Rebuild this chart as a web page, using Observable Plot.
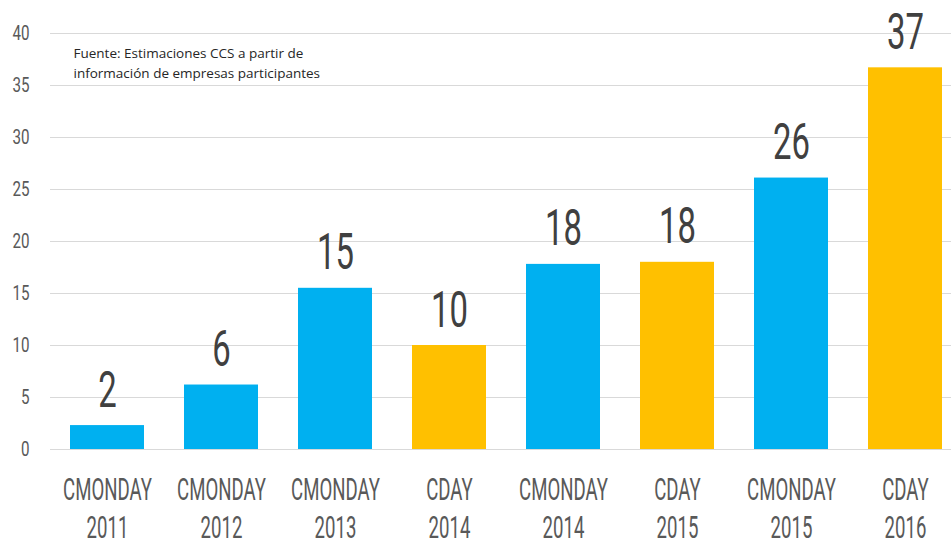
<!DOCTYPE html>
<html>
<head>
<meta charset="utf-8">
<script src="https://cdn.jsdelivr.net/npm/d3@7"></script>
<script src="https://cdn.jsdelivr.net/npm/@observablehq/plot@0.6"></script>
<style>
  html, body { margin: 0; padding: 0; background: #fff; }
  #chart svg { display: block; overflow: visible; }
</style>
</head>
<body>
<div id="chart"></div>
<script>
const events = ["CMONDAY","CMONDAY","CMONDAY","CDAY","CMONDAY","CDAY","CMONDAY","CDAY"];
const years = ["2011","2012","2013","2014","2014","2015","2015","2016"];
const values = [2.3, 6.2, 15.5, 10.0, 17.8, 18.0, 26.1, 36.7];
const valueLabels = ["2","6","15","10","18","18","26","37"];
const yTicks = [0, 5, 10, 15, 20, 25, 30, 35, 40];
const eventTypes = ["CMONDAY", "CDAY"];
const eventColors = ["#00B0F0", "#FFC000"];
const caption = "Fuente: Estimaciones CCS a partir de\ninformación de empresas participantes";

const data = events.map((e, i) => ({
  cat: e + "\n" + years[i],
  event: e,
  value: values[i],
  label: valueLabels[i]
}));

const narrow = "Roboto, sans-serif";

const chart = Plot.plot({
  width: 951,
  height: 542,
  marginTop: 33,
  marginBottom: 93,
  marginLeft: 50,
  marginRight: 0,
  style: { fontFamily: narrow, background: "#fff", overflow: "visible" },
  x: { domain: data.map(d => d.cat), range: [50, 962.6], paddingInner: 0.351, paddingOuter: 0.175, label: null },
  y: { domain: [0, 40], label: null },
  color: { domain: eventTypes, range: eventColors },
  marks: [
    Plot.gridY(yTicks, { stroke: "#d9d9d9", strokeOpacity: 1, strokeWidth: 1 }),
    Plot.axisY(yTicks, { tickSize: 0, tickPadding: 21, fontSize: 19.7, fill: "#595959", fontFamily: narrow, label: null }),
    Plot.axisX({ tickSize: 0, tickPadding: 23, fontSize: 31, fill: "#595959", fontFamily: narrow, lineHeight: 1.24, label: null }),
    Plot.barY(data, { x: "cat", y: "value", fill: "event" }),
    Plot.text(data, { x: "cat", y: "value", text: "label", lineAnchor: "bottom", dy: -19, fontSize: 50.6, fill: "#404040", fontFamily: narrow }),
    Plot.text([caption], { frameAnchor: "top-left", dx: 23, dy: 11, textAnchor: "start", lineAnchor: "top", lineHeight: 1.45, fontSize: 13.5, fill: "#262626", fontFamily: "'Open Sans', sans-serif" })
  ]
});
document.getElementById("chart").appendChild(chart);

// horizontally condense the display-font texts (the original uses a condensed typeface)
function condense(selector, k) {
  chart.querySelectorAll(selector).forEach(t => {
    const tr = t.getAttribute("transform") || "";
    if (tr) t.setAttribute("transform", tr + ` scale(${k},1)`);
    else {
      const x = +t.getAttribute("x") || 0, y = +t.getAttribute("y") || 0;
      t.setAttribute("transform", `translate(${x},${y}) scale(${k},1) translate(${-x},${-y})`);
    }
  });
}
const groups = chart.querySelectorAll("g[aria-label]");
groups.forEach(g => {
  const lab = g.getAttribute("aria-label");
  if (lab === "y-axis tick label") condense.call(null, `g[aria-label="y-axis tick label"] text`, 0.77);
  if (lab === "x-axis tick label") condense.call(null, `g[aria-label="x-axis tick label"] text`, 0.6);
});
const textGroups = chart.querySelectorAll('g[aria-label="text"]');
if (textGroups[0]) textGroups[0].querySelectorAll("text").forEach(t => {
  const tr = t.getAttribute("transform") || "";
  t.setAttribute("transform", tr + " scale(0.65,1)");
});
</script>
</body>
</html>
